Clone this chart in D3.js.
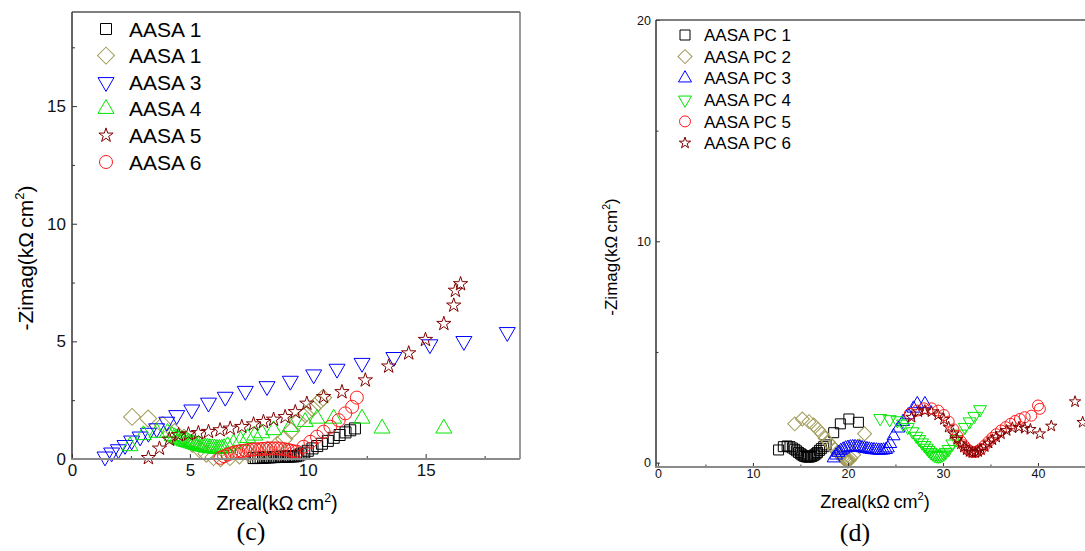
<!DOCTYPE html>
<html>
<head>
<meta charset="utf-8">
<script src="https://cdn.jsdelivr.net/npm/d3@7"></script>
<style>
  body { margin: 0; background: #fff; }
  svg { display: block; font-family: "Liberation Sans", Arial, sans-serif; }
</style>
</head>
<body>
<svg id="fig" width="1085" height="551"></svg>
<script>
// ---------- Panel (c): AASA samples ----------
const namesC = ["AASA 1", "AASA 1", "AASA 3", "AASA 4", "AASA 5", "AASA 6"];

const c1x = [7.7, 7.8, 7.9, 8.0, 8.1, 8.2, 8.3, 8.4, 8.5, 8.6, 8.7, 8.8, 8.9, 9.0, 9.1, 9.2, 9.3, 9.4, 9.5, 9.6, 9.7, 9.85, 10.0, 10.2, 10.4, 10.6, 10.85, 11.1, 11.35, 11.6, 11.8, 12.0];
const c1y = [0.04, 0.04, 0.05, 0.05, 0.06, 0.06, 0.07, 0.07, 0.08, 0.08, 0.09, 0.09, 0.1, 0.1, 0.1, 0.1, 0.11, 0.11, 0.12, 0.15, 0.2, 0.27, 0.35, 0.45, 0.55, 0.65, 0.77, 0.9, 1.02, 1.13, 1.22, 1.3];

const c2x = [2.55, 3.23, 3.85, 4.35, 4.75, 5.1, 5.4, 5.7, 6.0, 6.3, 6.7, 7.1, 7.5, 7.9, 8.3, 8.7, 9.0, 9.3, 9.6, 9.9, 10.2, 10.45, 10.65];
const c2y = [1.79, 1.72, 1.45, 1.15, 0.9, 0.65, 0.42, 0.22, 0.08, 0.03, 0.08, 0.15, 0.22, 0.3, 0.4, 0.6, 0.85, 1.2, 1.6, 1.9, 2.15, 2.4, 2.6];

const c3x = [1.4, 1.68, 1.97, 2.25, 2.53, 2.89, 3.24, 3.59, 4.02, 4.44, 5.08, 5.79, 6.5, 7.35, 8.27, 9.26, 10.25, 11.24, 12.3, 13.65, 15.18, 16.62, 18.46];
const c3y = [0.1, 0.27, 0.41, 0.59, 0.78, 0.95, 1.11, 1.3, 1.58, 1.86, 2.1, 2.39, 2.64, 2.89, 3.09, 3.32, 3.59, 3.83, 4.08, 4.33, 4.87, 5.01, 5.39];

const c4x = [2.46, 3.03, 3.6, 4.05, 4.25, 4.35, 4.45, 4.55, 4.65, 4.75, 4.85, 4.95, 5.05, 5.15, 5.25, 5.35, 5.45, 5.55, 5.65, 5.75, 5.85, 5.95, 6.05, 6.15, 6.25, 6.35, 6.45, 6.6, 6.85, 7.15, 7.45, 7.75, 8.05, 8.55, 9.26, 9.89, 10.39, 11.1, 12.3, 13.15, 15.77];
const c4y = [0.55, 1.02, 1.12, 1.12, 0.98, 0.93, 0.88, 0.84, 0.8, 0.76, 0.73, 0.7, 0.67, 0.64, 0.61, 0.58, 0.55, 0.53, 0.51, 0.49, 0.47, 0.46, 0.45, 0.44, 0.44, 0.45, 0.47, 0.55, 0.66, 0.78, 0.9, 1.0, 1.1, 1.23, 1.37, 1.58, 1.72, 1.72, 1.72, 1.3, 1.3];

const c5x = [3.24, 3.71, 4.13, 4.52, 4.94, 5.36, 5.79, 6.28, 6.71, 7.2, 7.7, 8.12, 8.55, 9.04, 9.47, 9.96, 10.67, 11.45, 12.44, 13.43, 14.28, 14.99, 15.77, 16.19, 16.26, 16.48];
const c5y = [0.05, 0.45, 0.83, 1.02, 1.06, 1.11, 1.16, 1.23, 1.3, 1.37, 1.48, 1.58, 1.68, 1.79, 2.0, 2.36, 2.64, 2.85, 3.35, 3.94, 4.5, 5.07, 5.75, 6.53, 7.16, 7.44];

const c6x = [6.3, 6.45, 6.6, 6.75, 6.9, 7.05, 7.2, 7.35, 7.5, 7.65, 7.8, 7.95, 8.1, 8.25, 8.4, 8.55, 8.7, 8.85, 9.0, 9.15, 9.3, 9.42, 9.54, 9.82, 10.11, 10.39, 10.67, 10.96, 11.31, 11.59, 11.88, 12.08];
const c6y = [0.05, 0.12, 0.19, 0.24, 0.28, 0.31, 0.34, 0.36, 0.38, 0.4, 0.41, 0.42, 0.43, 0.44, 0.45, 0.45, 0.45, 0.44, 0.42, 0.39, 0.35, 0.32, 0.31, 0.52, 0.73, 0.95, 1.16, 1.37, 1.65, 1.94, 2.22, 2.61];

const ticksCX = [0, 5, 10, 15];
const minorCX = [2.5, 7.5, 12.5, 17.5];
const ticksCY = [0, 5, 10, 15];
const minorCY = [2.5, 7.5, 12.5, 17.5];

// ---------- Panel (d): AASA PC samples ----------
const namesD = ["AASA PC 1", "AASA PC 2", "AASA PC 3", "AASA PC 4", "AASA PC 5", "AASA PC 6"];

const d1x = [12.7, 13.2, 13.6, 13.9, 14.15, 14.4, 14.6, 14.8, 15.0, 15.15, 15.3, 15.45, 15.6, 15.75, 15.9, 16.05, 16.2, 16.35, 16.5, 16.65, 16.8, 17.0, 17.2, 17.45, 17.7, 18.5, 19.2, 20.1, 21.1];
const d1y = [0.57, 0.72, 0.75, 0.72, 0.66, 0.6, 0.53, 0.46, 0.4, 0.35, 0.31, 0.28, 0.26, 0.25, 0.25, 0.26, 0.28, 0.31, 0.35, 0.4, 0.46, 0.55, 0.63, 0.72, 0.8, 1.35, 1.75, 1.97, 1.82];

const d2x = [14.4, 15.2, 15.9, 16.4, 16.85, 17.25, 17.6, 17.95, 18.3, 18.6, 18.9, 19.1, 19.3, 19.45, 19.6, 19.75, 19.85, 19.95, 20.05, 20.15, 20.3, 20.6, 21.2, 21.75];
const d2y = [1.75, 1.97, 1.85, 1.7, 1.5, 1.3, 1.1, 0.92, 0.75, 0.6, 0.47, 0.38, 0.3, 0.23, 0.17, 0.12, 0.09, 0.07, 0.08, 0.12, 0.2, 0.35, 0.75, 1.3];

const d3x = [18.5, 18.75, 19.0, 19.25, 19.5, 19.75, 20.0, 20.25, 20.5, 20.75, 21.0, 21.25, 21.5, 21.75, 22.0, 22.25, 22.5, 22.75, 23.0, 23.25, 23.5, 23.75, 24.0, 24.2, 24.45, 24.8, 25.3, 25.8, 26.35, 26.9, 27.3, 28.1];
const d3y = [0.2, 0.33, 0.45, 0.54, 0.6, 0.65, 0.68, 0.7, 0.71, 0.71, 0.7, 0.68, 0.66, 0.64, 0.62, 0.6, 0.58, 0.57, 0.56, 0.55, 0.55, 0.56, 0.58, 0.65, 0.85, 1.2, 1.55, 1.85, 2.15, 2.45, 2.65, 2.65];

const d4x = [23.4, 24.4, 25.2, 25.8, 26.3, 26.8, 27.2, 27.5, 27.8, 28.05, 28.3, 28.5, 28.7, 28.9, 29.1, 29.3, 29.5, 29.7, 29.9, 30.1, 30.3, 30.6, 31.0, 31.4, 31.8, 32.3, 32.8, 33.3, 33.9];
const d4y = [2.0, 1.95, 1.9, 1.75, 1.6, 1.4, 1.2, 1.05, 0.9, 0.78, 0.66, 0.56, 0.47, 0.4, 0.34, 0.31, 0.3, 0.31, 0.34, 0.4, 0.47, 0.6, 0.85, 1.05, 1.3, 1.6, 1.85, 2.1, 2.4];

const d5x = [26.5, 27.3, 28.0, 28.8, 29.5, 30.1, 30.6, 31.1, 31.5, 31.9, 32.2, 32.5, 32.8, 33.1, 33.4, 33.7, 34.0, 34.4, 34.8, 35.2, 35.6, 36.1, 36.6, 37.1, 37.6, 38.1, 38.6, 39.3, 40.0, 40.2];
const d5y = [2.2, 2.35, 2.45, 2.45, 2.35, 2.15, 1.85, 1.5, 1.2, 0.95, 0.78, 0.63, 0.53, 0.48, 0.48, 0.53, 0.62, 0.78, 0.95, 1.12, 1.28, 1.45, 1.6, 1.75, 1.88, 1.97, 2.05, 2.12, 2.58, 2.43];

const d6x = [26.7, 27.4, 28.1, 28.8, 29.5, 30.1, 30.6, 31.1, 31.5, 31.9, 32.2, 32.5, 32.8, 33.1, 33.4, 33.7, 34.0, 34.4, 34.8, 35.2, 35.6, 36.1, 36.7, 37.3, 38.0, 38.6, 39.2, 40.2, 41.4, 43.9, 44.7];
const d6y = [2.05, 2.3, 2.35, 2.3, 2.15, 1.95, 1.6, 1.3, 1.05, 0.85, 0.7, 0.58, 0.5, 0.45, 0.45, 0.5, 0.58, 0.72, 0.88, 1.03, 1.15, 1.3, 1.45, 1.57, 1.6, 1.55, 1.5, 1.3, 1.65, 2.75, 1.82];

const ticksDX = [0, 10, 20, 30, 40];
const minorDX = [5, 15, 25, 35, 45];
const ticksDY = [0, 10, 20];
const minorDY = [5, 15];

// ---------- marker shapes ----------
// Returns path data plus rotation for a marker of overall width w
function marker(shape, w) {
  switch (shape) {
    case "square":  return { d: d3.symbol(d3.symbolSquare, w * w)(), rot: 0 };
    case "diamond": return { d: d3.symbol(d3.symbolSquare, w * w / 2)(), rot: 45 };
    case "triUp":   return { d: d3.symbol(d3.symbolTriangle, Math.sqrt(3) / 4 * w * w)(), rot: 0 };
    case "triDown": return { d: d3.symbol(d3.symbolTriangle, Math.sqrt(3) / 4 * w * w)(), rot: 180 };
    case "circle":  return { d: d3.symbol(d3.symbolCircle, Math.PI * w * w / 4)(), rot: 0 };
    case "star":    return { d: d3.symbol(d3.symbolStar, (w / 2) * (w / 2) / 0.8908130915292852)(), rot: 0 };
  }
}

const svg = d3.select("#fig");

function drawPanel(cfg) {
  const g = svg.append("g");
  const x = d3.scaleLinear().domain(cfg.xDomain).range(cfg.xRange);
  const y = d3.scaleLinear().domain(cfg.yDomain).range(cfg.yRange);

  // data markers, drawn in series order
  cfg.series.forEach(s => {
    const m = marker(s.shape, s.size);
    g.append("g").selectAll("path")
      .data(d3.zip(s.xs, s.ys))
      .join("path")
      .attr("d", m.d)
      .attr("transform", d => `translate(${x(d[0])},${y(d[1])}) rotate(${m.rot})`)
      .attr("fill", "none")
      .attr("stroke", s.color)
      .attr("stroke-width", 1);
  });

  // ticks pointing inward
  const xa = g.append("g").attr("transform", `translate(0,${cfg.yRange[0]})`)
    .call(d3.axisBottom(x).tickValues(cfg.xTicks).tickSize(-cfg.major).tickPadding(cfg.xPad).tickFormat(d3.format("d")));
  const xm = g.append("g").attr("transform", `translate(0,${cfg.yRange[0]})`)
    .call(d3.axisBottom(x).tickValues(cfg.xMinor).tickSize(-cfg.minor).tickFormat(""));
  const ya = g.append("g").attr("transform", `translate(${cfg.xRange[0]},0)`)
    .call(d3.axisLeft(y).tickValues(cfg.yTicks).tickSize(-cfg.major).tickPadding(cfg.yPad).tickFormat(d3.format("d")));
  const ym = g.append("g").attr("transform", `translate(${cfg.xRange[0]},0)`)
    .call(d3.axisLeft(y).tickValues(cfg.yMinor).tickSize(-cfg.minor).tickFormat(""));
  [xa, xm, ya, ym].forEach(a => {
    a.select(".domain").remove();
    a.selectAll(".tick line").attr("stroke", "#333").attr("stroke-width", 1);
    a.selectAll("text").attr("font-size", cfg.tickFont).attr("fill", "#111")
      .attr("font-family", "'Liberation Sans', Arial, sans-serif");
  });

  // frame
  const [x0, x1] = cfg.xRange, [yb, yt] = cfg.yRange;
  g.append("line").attr("x1", x0).attr("x2", x1).attr("y1", yt).attr("y2", yt)
    .attr("stroke", "#555").attr("stroke-width", 1.5);
  g.append("line").attr("x1", x1).attr("x2", x1).attr("y1", yt).attr("y2", yb)
    .attr("stroke", "#777").attr("stroke-width", 1.5);
  g.append("line").attr("x1", x0).attr("x2", x0).attr("y1", yt).attr("y2", yb + 1)
    .attr("stroke", "#333").attr("stroke-width", 1.5);
  g.append("line").attr("x1", x0 - 1).attr("x2", x1).attr("y1", yb).attr("y2", yb)
    .attr("stroke", "#8a8a8a").attr("stroke-width", 2.2);

  // legend
  cfg.series.forEach((s, i) => {
    const ly = cfg.legY + i * cfg.legDy;
    const m = marker(s.shape, s.legSize);
    g.append("path").attr("d", m.d)
      .attr("transform", `translate(${cfg.legX},${ly}) rotate(${m.rot})`)
      .attr("fill", "none").attr("stroke", s.color).attr("stroke-width", 1);
    g.append("text").attr("x", cfg.legTextX).attr("y", ly).attr("dy", "0.36em")
      .attr("font-size", cfg.legFont).attr("fill", "#000").text(s.name);
  });

  // axis titles with superscript
  function title(sel, label, size) {
    sel.attr("font-size", size).attr("fill", "#000");
    sel.append("tspan").text(label + "(kΩ\u2009cm");
    sel.append("tspan").attr("font-size", size * 0.62).attr("dy", -size * 0.42).text("2");
    sel.append("tspan").attr("dy", size * 0.42).text(")");
  }
  title(g.append("text").attr("x", cfg.xTitle[0]).attr("y", cfg.xTitle[1]).attr("text-anchor", "middle"),
        "Zreal", cfg.titleFont);
  title(g.append("text").attr("text-anchor", "middle")
          .attr("transform", `translate(${cfg.yTitle[0]},${cfg.yTitle[1]}) rotate(-90)`),
        "-Zimag", cfg.yTitleFont);

  // panel caption
  g.append("text").attr("x", cfg.caption[0]).attr("y", cfg.caption[1]).attr("text-anchor", "middle")
    .attr("font-family", "'Liberation Serif', 'Times New Roman', serif")
    .attr("font-size", 26).attr("fill", "#000").text(cfg.captionText);
}

const colors = {
  black: "#000000", olive: "#a09a55", blue: "#0000ff",
  green: "#00e600", red: "#ff1a1a", wine: "#800000"
};

drawPanel({
  xDomain: [0, 19], xRange: [72, 520],
  yDomain: [0, 19], yRange: [459, 12],
  xTicks: ticksCX, xMinor: minorCX, yTicks: ticksCY, yMinor: minorCY,
  major: 5, minor: 3, xPad: 5, yPad: 6, tickFont: 17,
  series: [
    { name: namesC[0], xs: c1x, ys: c1y, shape: "square",  size: 11, legSize: 11, color: colors.black },
    { name: namesC[1], xs: c2x, ys: c2y, shape: "diamond", size: 17, legSize: 17, color: colors.olive },
    { name: namesC[2], xs: c3x, ys: c3y, shape: "triDown", size: 16, legSize: 16, color: colors.blue },
    { name: namesC[3], xs: c4x, ys: c4y, shape: "triUp",   size: 16, legSize: 16, color: colors.green },
    { name: namesC[4], xs: c5x, ys: c5y, shape: "star",    size: 15, legSize: 15, color: colors.wine },
    { name: namesC[5], xs: c6x, ys: c6y, shape: "circle",  size: 13, legSize: 13, color: colors.red }
  ],
  legX: 106, legTextX: 129, legY: 29, legDy: 26.6, legFont: 21,
  xTitle: [277, 510], yTitle: [33, 258], titleFont: 20, yTitleFont: 21,
  caption: [251, 540], captionText: "(c)"
});

drawPanel({
  xDomain: [-0.2, 50], xRange: [656, 1133],
  yDomain: [-0.2, 20], yRange: [467, 20],
  xTicks: ticksDX, xMinor: minorDX, yTicks: ticksDY, yMinor: minorDY,
  major: 4, minor: 2.5, xPad: 2, yPad: 5, tickFont: 12.5,
  series: [
    { name: namesD[0], xs: d1x, ys: d1y, shape: "square",  size: 10, legSize: 10, color: colors.black },
    { name: namesD[1], xs: d2x, ys: d2y, shape: "diamond", size: 14, legSize: 14, color: colors.olive },
    { name: namesD[2], xs: d3x, ys: d3y, shape: "triUp",   size: 13, legSize: 13, color: colors.blue },
    { name: namesD[3], xs: d4x, ys: d4y, shape: "triDown", size: 13, legSize: 13, color: colors.green },
    { name: namesD[4], xs: d5x, ys: d5y, shape: "circle",  size: 11, legSize: 11, color: colors.red },
    { name: namesD[5], xs: d6x, ys: d6y, shape: "star",    size: 12, legSize: 12, color: colors.wine }
  ],
  legX: 685, legTextX: 704, legY: 35, legDy: 21.6, legFont: 17,
  xTitle: [875, 508], yTitle: [617, 257], titleFont: 18, yTitleFont: 17,
  caption: [855, 541], captionText: "(d)"
});
</script>
</body>
</html>
